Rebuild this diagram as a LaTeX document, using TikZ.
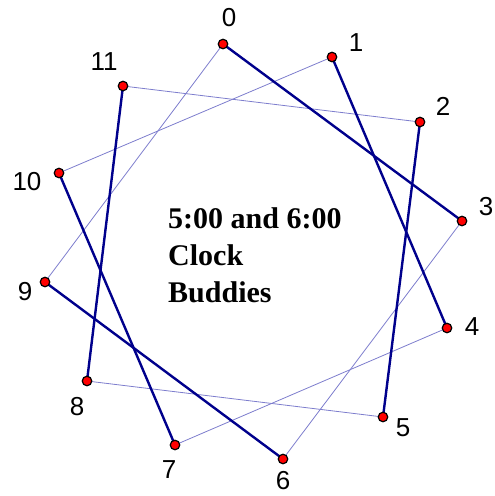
\documentclass[tikz,border=0pt]{standalone}
\usepackage{fontspec}
\setmainfont{Liberation Serif}
\newfontfamily\numfont{Liberation Sans}
\definecolor{cbnavy}{RGB}{0,0,140}
\definecolor{cbthin}{RGB}{125,125,205}
\definecolor{cbred}{RGB}{255,0,0}
\usetikzlibrary{backgrounds}

\begin{document}
\begin{tikzpicture}[x=1pt,y=-1pt,
  dot/.style={circle,draw=black,fill=cbred,line width=1.2pt,inner sep=0pt,minimum size=9.5pt},
  hour/.style={inner sep=0pt,font=\numfont\fontsize{26}{26}\selectfont},
  fiveline/.style={cbnavy,line width=2.4pt},
  sixline/.style={cbthin,line width=0.8pt}]
  \useasboundingbox (0,0) rectangle (495,496);
  % Clock points and their hour labels
  \foreach \i/\x/\y/\lx/\ly in {0/223/44/229/18, 1/332/57/356/43, 2/420/122/443/106,
      3/462/221/486/207, 4/447/328/472/327, 5/383/417/403/428,
      6/283/459/283/481, 7/175/445/169/470, 8/87/381/77/407,
      9/45/282/25/292, 10/59/173/27/182, 11/123/86/104/62}{
    \node[dot] (p\i) at (\x,\y) {};
    \node[hour] (l\i) at (\lx,\ly) {\i};
  }
  % Buddy lines
  \begin{scope}[on background layer]
    \foreach \a/\b in {0/9,1/10,2/11,3/6,4/7,5/8}
      \draw[sixline] (p\a.center) -- (p\b.center);
    \foreach \a/\b in {0/3,1/4,2/5,6/9,7/10,8/11}
      \draw[fiveline] (p\a.center) -- (p\b.center);
  \end{scope}
  % Title
  \node[anchor=north west,inner sep=0pt,align=left,
    font=\fontsize{30}{37}\selectfont\bfseries] (title) at (168,207)
    {5:00 and 6:00\\Clock\\Buddies};
\end{tikzpicture}
\end{document}
